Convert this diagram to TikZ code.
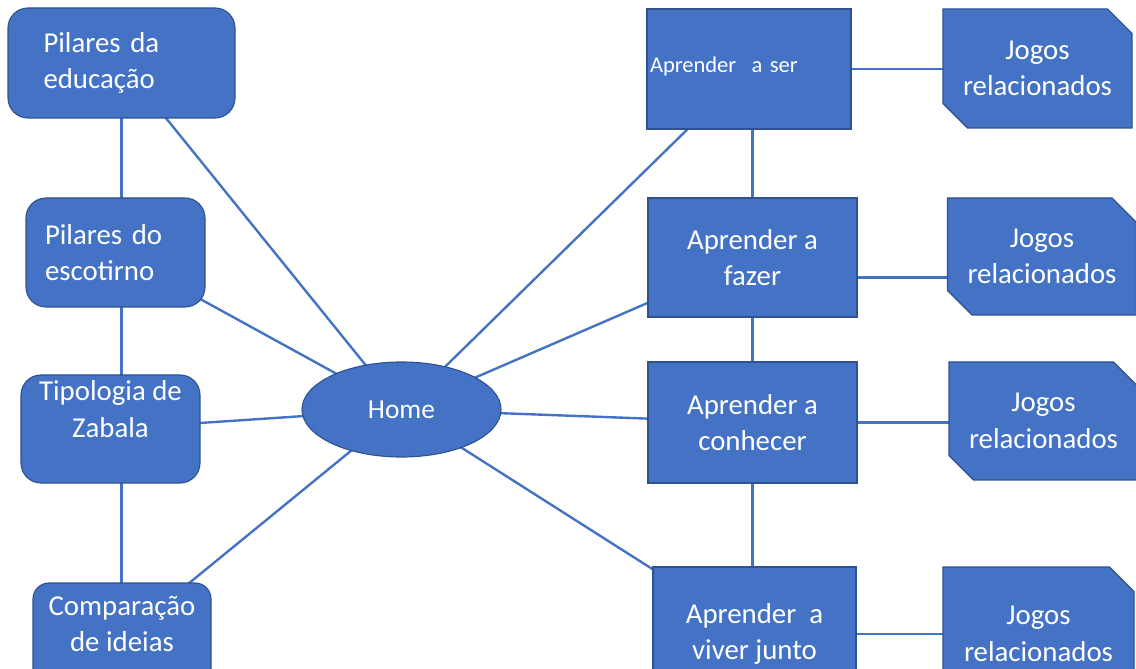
\documentclass[tikz,border=0pt]{standalone}
\usepackage{fontspec}
\setmainfont{Carlito}
\usepackage{tikz}
\usetikzlibrary{shapes.geometric}
\usetikzlibrary{shapes.misc}
\usetikzlibrary{backgrounds}
\definecolor{officeblue}{HTML}{4472C4}
\definecolor{officeedge}{HTML}{2F528F}

\begin{document}
\begin{tikzpicture}[
        box/.style={draw=officeedge, fill=officeblue, line width=0.8pt, text=white,
                align=center, inner sep=0pt, font=\fontsize{20.5}{26}\selectfont},
        rbox/.style={box, rounded corners=0.5cm},
        snipbox/.style={box, chamfered rectangle,
                chamfered rectangle corners={north east,south west},
                chamfered rectangle xsep=0.5cm},
        link/.style={draw=officeblue, line width=1.7pt}]
        \useasboundingbox (0,0) rectangle (28.4,-16.725);
        \clip (0,0) rectangle (28.4,-16.725);
        % left column
        \node[rbox, minimum width=5.675cm, minimum height=2.75cm, text width=3.9cm, align=left] (pe) at (3.0375,-1.575) {Pilares da\\educação};
        \node[rbox, minimum width=4.475cm, minimum height=2.725cm, text width=3.525cm, align=left] (ps) at (2.8875,-6.3125) {Pilares do\\escotirno};
        \node[rbox, minimum width=4.475cm, minimum height=2.7cm, text depth=1cm] (tz) at (2.7625,-10.725) {Tipologia de\\Zabala};
        \node[rbox, rounded corners=0.4cm, minimum width=4.45cm, minimum height=2.75cm, text depth=0.7cm] (cp) at (3.05,-15.95) {Comparação\\de ideias};
        % centre
        \node[box, ellipse, minimum width=4.975cm, minimum height=2.375cm, font=\fontsize{19.5}{24}\selectfont] (home) at (10.0375,-10.2375) {Home};
        % right column
        \node[box, minimum width=5.1cm, minimum height=3.0cm, text width=4.95cm, align=left, text depth=0.2cm, font=\fontsize{16}{22}\selectfont] (aser) at (18.725,-1.725) {Aprender\hspace{0.35em} a ser};
        \node[box, minimum width=5.225cm, minimum height=2.975cm] (afazer) at (18.8125,-6.4375) {Aprender a\\fazer};
        \node[box, minimum width=5.225cm, minimum height=3.025cm] (aconhecer) at (18.8125,-10.5625) {Aprender a\\conhecer};
        \node[box, minimum width=5.075cm, minimum height=3.35cm] (aviver) at (18.8625,-15.85) {Aprender\ \ a\\viver junto};
        % games
        \node[snipbox, minimum width=4.725cm, minimum height=2.975cm] (jogos1) at (25.9375,-1.7125) {Jogos\\relacionados};
        \node[snipbox, minimum width=4.6cm, minimum height=2.925cm] (jogos2) at (26.05,-6.4125) {Jogos\\relacionados};
        \node[snipbox, minimum width=4.575cm, minimum height=2.95cm] (jogos3) at (26.0875,-10.525) {Jogos\\relacionados};
        \node[snipbox, minimum width=4.775cm, minimum height=3.35cm] (jogos4) at (25.9625,-15.85) {Jogos\\relacionados};
        \begin{pgfonlayer}{background}
                \draw[link] (pe.center) -- (pe.center |- ps.center);
                \draw[link] (pe.center |- ps.center) -- (pe.center |- tz.center);
                \draw[link] (pe.center |- tz.center) -- (pe.center |- cp.center);
                \draw[link] (home.center) -- (pe.center);
                \draw[link] (home.center) -- (ps.center);
                \draw[link] (home.center) -- (tz.center);
                \draw[link] (home.center) -- (cp.center);
                \draw[link] (home.center) -- (aser.center);
                \draw[link] (home.center) -- (afazer.center);
                \draw[link] (home.center) -- (aconhecer.center);
                \draw[link] (home.center) -- (aviver.center);
                \draw[link] (afazer.center |- aser.center) -- (afazer.center);
                \draw[link] (afazer.center) -- (afazer.center |- aconhecer.center);
                \draw[link] (afazer.center |- aconhecer.center) -- (afazer.center |- aviver.center);
                \draw[link] (aser.center) -- (aser.center -| jogos1.center);
                \draw[link] ([yshift=-5mm]afazer.center) -- ([yshift=-5mm]afazer.center -| jogos2.center);
                \draw[link] (aconhecer.center) -- (aconhecer.center -| jogos3.center);
                \draw[link] (aviver.center) -- (aviver.center -| jogos4.center);
        \end{pgfonlayer}
\end{tikzpicture}
\end{document}
